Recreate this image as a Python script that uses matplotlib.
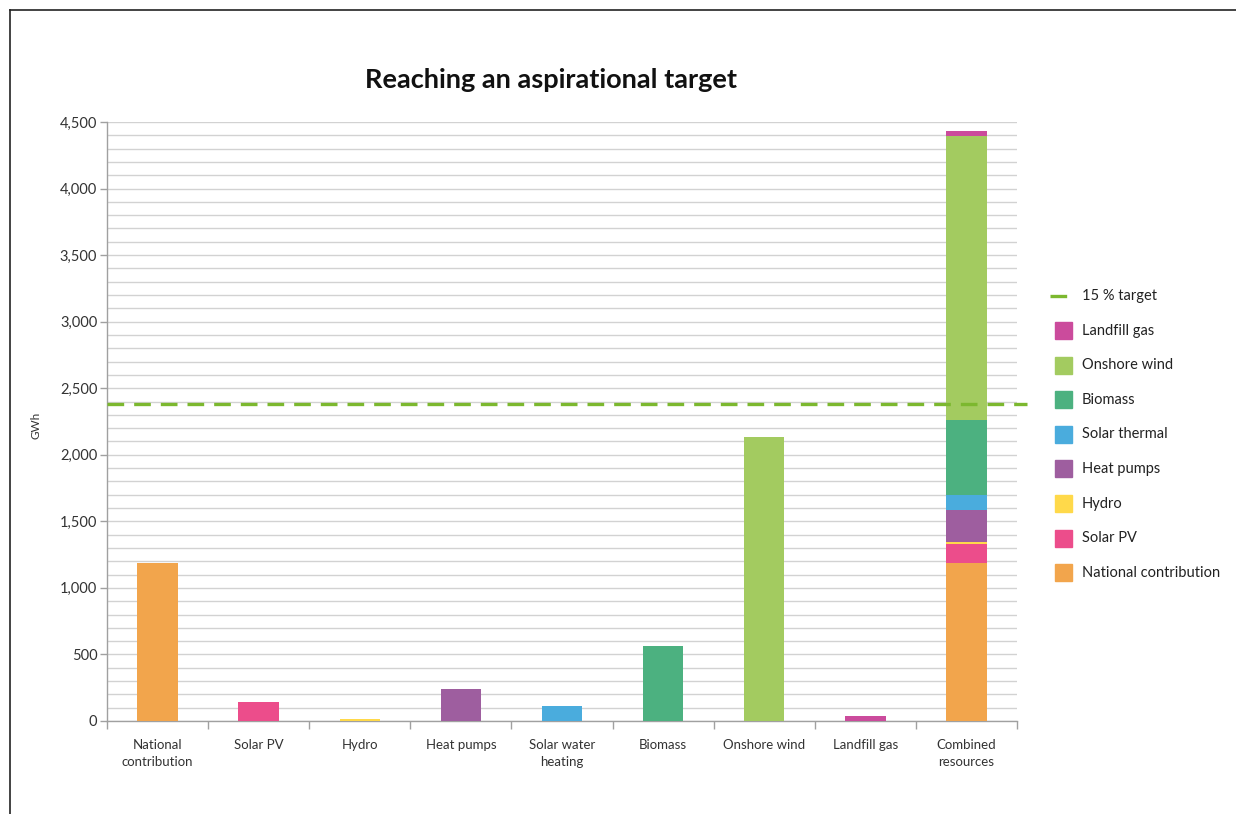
import matplotlib
matplotlib.use('Agg')
import matplotlib.pyplot as plt
from matplotlib.patches import Rectangle
from matplotlib.lines import Line2D
from matplotlib.ticker import MultipleLocator, FuncFormatter
import numpy as np

plt.rcParams['font.family'] = ['Lato', 'DejaVu Sans']

# ---- data ----
categories = ['National\ncontribution', 'Solar PV', 'Hydro', 'Heat pumps',
              'Solar water\nheating', 'Biomass', 'Onshore wind', 'Landfill gas',
              'Combined\nresources']
series = ['National contribution', 'Solar PV', 'Hydro', 'Heat pumps',
          'Solar thermal', 'Biomass', 'Onshore wind', 'Landfill gas']
values = [1190, 140, 15, 240, 115, 563, 2130, 38]
colors = ['#F2A54C', '#EC4D8B', '#FFD94A', '#9E5E9F',
          '#4AACDD', '#4CB180', '#A3CB60', '#CB4B9C']
target = 2380
target_label = '15 % target'
title = 'Reaching an aspirational target'
ylabel = 'GWh'

W, H = 1236, 814
fig = plt.figure(figsize=(W / 100, H / 100), dpi=100)
ax = fig.add_axes([107 / W, 1 - 721 / H, (1017 - 107) / W, (721 - 122) / H])

bw = 0.4
x = np.arange(len(categories))
# individual bars
for i, (v, c) in enumerate(zip(values, colors)):
    ax.bar(x[i], v, width=bw, color=c, zorder=3)
# combined stacked bar
bottom = 0
for v, c in zip(values, colors):
    ax.bar(x[-1], v, width=bw, bottom=bottom, color=c, zorder=3)
    bottom += v

# target line
ax.axhline(target, xmin=0, xmax=1.011, color='#7CB82F', lw=2.4,
           dashes=(5, 3), zorder=5, clip_on=False)

ax.set_xlim(-0.5, len(categories) - 0.5)
ax.set_ylim(0, 4500)
ax.yaxis.set_major_locator(MultipleLocator(500))
ax.yaxis.set_minor_locator(MultipleLocator(100))
ax.yaxis.set_major_formatter(FuncFormatter(lambda v, p: f'{int(v):,}'))
ax.grid(True, which='both', axis='y', color='#D2D2D2', lw=1, zorder=0)
ax.set_axisbelow(True)

ax.set_xticks(x)
ax.set_xticklabels(categories, fontsize=9.5, color='#333333', linespacing=1.45)
ax.set_xticks(np.arange(len(categories) + 1) - 0.5, minor=True)
ax.tick_params(axis='x', which='major', length=0, pad=13)
ax.tick_params(axis='x', which='minor', length=6, color='#A0A0A0', width=1)
ax.tick_params(axis='y', which='major', length=5, color='#A0A0A0', width=1,
               labelsize=10.5, labelcolor='#333333', pad=2)
ax.tick_params(axis='y', which='minor', length=0)

for s in ['top', 'right']:
    ax.spines[s].set_visible(False)
for s in ['left', 'bottom']:
    ax.spines[s].set_color('#A0A0A0')
    ax.spines[s].set_linewidth(1)

fig.text(36 / W, 1 - 425 / H, ylabel, rotation=90, ha='center', va='center',
         fontsize=8.5, color='#333333')
fig.text(551 / W, 1 - 80 / H, title, ha='center', va='center',
         fontsize=19.5, fontweight='bold', color='#111111')

# legend (manual, matching reference layout)
leg_x = 1050
leg_y0 = 296
step = 34.6
ys = [leg_y0 + k * step for k in range(len(series) + 1)]
fig.add_artist(Line2D([leg_x / W, (leg_x + 25) / W], [1 - ys[0] / H, 1 - ys[0] / H],
                      transform=fig.transFigure, color='#7CB82F', lw=2.4, dashes=(5, 3)))
fig.text(1082 / W, 1 - ys[0] / H, target_label, ha='left', va='center',
         fontsize=10.5, color='#222222')
for k, (name, c) in enumerate(zip(series[::-1], colors[::-1])):
    yy = ys[k + 1]
    fig.add_artist(Rectangle(((leg_x + 5) / W, 1 - (yy + 8.5) / H), 17 / W, 17 / H,
                             transform=fig.transFigure, color=c))
    fig.text(1082 / W, 1 - yy / H, name, ha='left', va='center',
             fontsize=10.5, color='#222222')

# outer frame
fig.add_artist(Line2D([10 / W, 10 / W], [0, 1 - 10 / H], transform=fig.transFigure,
                      color='#222222', lw=1.2))
fig.add_artist(Line2D([10 / W, 1], [1 - 10 / H, 1 - 10 / H], transform=fig.transFigure,
                      color='#222222', lw=1.2))

fig.savefig('out.png', dpi=100)
